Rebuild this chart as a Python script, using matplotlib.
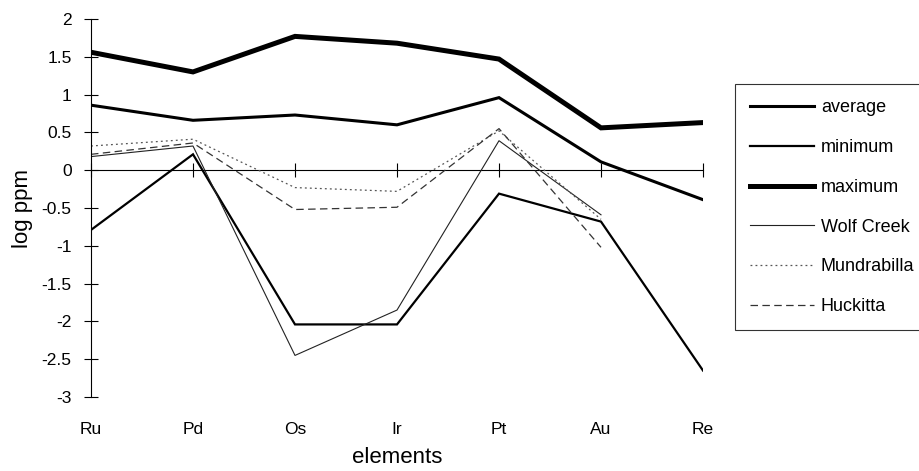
import matplotlib
matplotlib.use("Agg")
import matplotlib.pyplot as plt

plt.rcParams['font.family'] = ['Liberation Sans', 'DejaVu Sans']

elements = ["Ru", "Pd", "Os", "Ir", "Pt", "Au", "Re"]
average = [0.86, 0.66, 0.73, 0.60, 0.96, 0.11, -0.39]
minimum = [-0.79, 0.21, -2.04, -2.04, -0.31, -0.68, -2.65]
maximum = [1.56, 1.30, 1.77, 1.68, 1.47, 0.56, 0.63]
wolf_creek = [0.18, 0.32, -2.45, -1.85, 0.39, -0.59]
mundrabilla = [0.32, 0.41, -0.23, -0.28, 0.52, -0.65]
huckitta = [0.21, 0.36, -0.52, -0.49, 0.55, -1.02]
y_ticks = [-3, -2.5, -2, -1.5, -1, -0.5, 0, 0.5, 1, 1.5, 2]

fig = plt.figure(figsize=(9.2, 4.71), dpi=100)
ax = fig.add_axes([91/920, 1-397/471, (703-91)/920, (397-19)/471])

x = list(range(len(elements)))
ax.plot(x, average, color='black', lw=2.2, label='average', solid_joinstyle='miter')
ax.plot(x, minimum, color='black', lw=1.6, label='minimum', solid_joinstyle='miter')
ax.plot(x, maximum, color='black', lw=3.6, label='maximum', solid_joinstyle='miter')
ax.plot(x[:len(wolf_creek)], wolf_creek, color='#222222', lw=0.8, label='Wolf Creek')
ax.plot(x[:len(mundrabilla)], mundrabilla, color='#555555', lw=0.9, ls=(0, (1.5, 2.5)), label='Mundrabilla')
ax.plot(x[:len(huckitta)], huckitta, color='#333333', lw=0.9, ls=(0, (6, 3.5)), label='Huckitta')

ax.set_xlim(0, len(elements) - 1)
ax.set_ylim(-3, 2)
ax.set_yticks(y_ticks)
ax.set_yticklabels([f"{v:g}" for v in y_ticks])
ax.set_xticks(x)
ax.set_xticklabels(elements)

for s in ['top', 'right', 'bottom']:
    ax.spines[s].set_visible(False)
ax.spines['left'].set_linewidth(0.8)
ax.tick_params(axis='y', direction='inout', length=10, width=0.8, labelsize=12.5, pad=9)
ax.tick_params(axis='x', length=0, labelsize=12.5, pad=18)

# zero axis line with crossing ticks
sec = ax.secondary_xaxis(3/5)
sec.set_xticks(x)
sec.set_xticklabels([])
sec.spines['bottom'].set_linewidth(0.8)
sec.tick_params(axis='x', direction='inout', length=10, width=0.8)

ax.set_xlabel('elements', fontsize=16, labelpad=7)
ax.set_ylabel('log ppm', fontsize=16, labelpad=6)

leg = fig.legend(loc='upper left', bbox_to_anchor=(735/920, 1-84/471), frameon=True,
                 fancybox=False, edgecolor='black', fontsize=13, handlelength=3.5,
                 labelspacing=1.26, borderpad=0.85, handletextpad=0.4, borderaxespad=0)
leg.get_frame().set_linewidth(0.8)

fig.savefig('out.png', dpi=100)
